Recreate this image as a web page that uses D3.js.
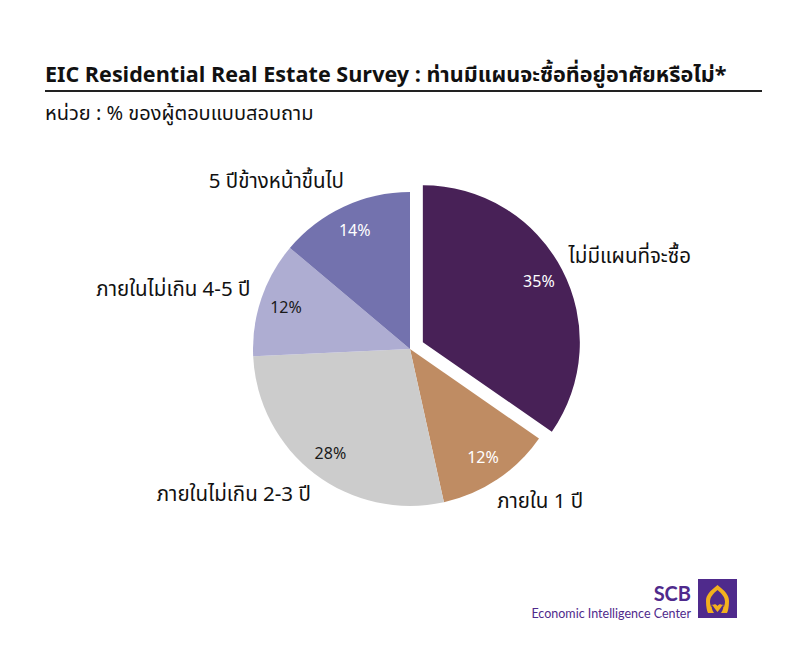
<!DOCTYPE html>
<html>
<head>
<meta charset="utf-8">
<script src="https://cdn.jsdelivr.net/npm/d3@7"></script>
<style>
    body { margin: 0; background: #fff; }
    svg text { font-family: "Noto Sans Thai", "Noto Sans", "Open Sans", sans-serif; }
    svg text.brand { font-family: Lato, "Noto Sans", sans-serif; }
</style>
</head>
<body>
<svg id="pieChart"></svg>
<script>
(function () {
    'use strict';

    const categories = ['ไม่มีแผนที่จะซื้อ', 'ภายใน 1 ปี', 'ภายในไม่เกิน 2-3 ปี', 'ภายในไม่เกิน 4-5 ปี', '5 ปีข้างหน้าขึ้นไป'];
    const shares = [35, 12, 28, 12, 14];
    const colors = ['#482157', '#bf8c63', '#cccccc', '#aeadd2', '#7372ae'];
    const valueColors = ['#ffffff', '#ffffff', '#1a1a1a', '#1a1a1a', '#ffffff'];

    const width = 800;
    const height = 650;
    const radius = 157;
    const center = { 'x': 410, 'y': 349 };
    const explode = 14.5;

    let svg = d3.select('#pieChart')
        .attr('width', width)
        .attr('height', height);

    // title + rule
    svg.append('text')
        .attr('x', 45)
        .attr('y', 82)
        .attr('font-size', 21.6)
        .attr('font-weight', 'bold')
        .attr('fill', '#111')
        .text('EIC Residential Real Estate Survey : ท่านมีแผนจะซื้อที่อยู่อาศัยหรือไม่*');

    svg.append('line')
        .attr('x1', 45)
        .attr('x2', 762)
        .attr('y1', 91)
        .attr('y2', 91)
        .attr('stroke', '#222')
        .attr('stroke-width', 2);

    svg.append('text')
        .attr('x', 45)
        .attr('y', 120)
        .attr('font-size', 20)
        .attr('fill', '#111')
        .text('หน่วย : % ของผู้ตอบแบบสอบถาม');

    let pie = d3.pie()
        .sort(null)
        .value((d) => {
            return d;
        });

    let arcs = pie(shares);

    let arc = d3.arc()
        .innerRadius(0)
        .outerRadius(radius);

    let valueArc = d3.arc()
        .innerRadius(131)
        .outerRadius(131);

    let labelArc = d3.arc()
        .innerRadius(178)
        .outerRadius(178);

    const mid = (d) => {
        return (d.startAngle + d.endAngle) / 2;
    };

    const shift = (d, i) => {
        if (i !== 0) {
            return [0, 0];
        }
        return [Math.sin(mid(d)) * explode, -Math.cos(mid(d)) * explode];
    };

    let chart = svg.append('g')
        .attr('transform', `translate(${center.x}, ${center.y})`);

    let slice = chart.selectAll('.slice')
        .data(arcs)
        .enter().append('g')
            .attr('class', 'slice')
            .attr('transform', (d, i) => {
                let s = shift(d, i);
                return `translate(${s[0]}, ${s[1]})`;
            });

    slice.append('path')
        .attr('d', arc)
        .attr('fill', (d, i) => {
            return colors[i];
        });

    slice.append('text')
        .attr('transform', (d) => {
            return `translate(${valueArc.centroid(d)})`;
        })
        .attr('text-anchor', 'middle')
        .attr('dy', '.35em')
        .attr('font-size', 16)
        .attr('fill', (d, i) => {
            return valueColors[i];
        })
        .text((d) => {
            return d.data + '%';
        });

    slice.append('text')
        .attr('transform', (d) => {
            return `translate(${labelArc.centroid(d)})`;
        })
        .attr('text-anchor', (d) => {
            return Math.sin(mid(d)) > 0 ? 'start' : 'end';
        })
        .attr('dx', (d) => {
            return Math.sin(mid(d)) > 0 ? -12 : 9;
        })
        .attr('dy', (d) => {
            return 6 - 6 * Math.cos(mid(d));
        })
        .attr('font-size', 20.5)
        .attr('fill', '#111')
        .text((d, i) => {
            return categories[i];
        });

    // SCB EIC logo
    let logo = svg.append('g')
        .attr('transform', 'translate(698, 579)');

    logo.append('rect')
        .attr('width', 39)
        .attr('height', 39)
        .attr('fill', '#4f2a8c');

    logo.append('path')
        .attr('d', 'M19.5 6 C12 12 8 16 8 22 C8 28 9 32 10 34 L16 34 C14 31 13 28 14 25 C16 29 18 31 19.5 33 C21 31 23 29 25 25 C26 28 25 31 23 34 L29 34 C30 32 31 28 31 22 C31 16 27 12 19.5 6 Z M19.5 11 C24 15 27 18 27 23 C27 25 26 27 26 28 C24 25 21.5 24 19.5 27 C17.5 24 15 25 13 28 C13 27 12 25 12 23 C12 18 15 15 19.5 11 Z')
        .attr('fill', '#f2b01e');

    svg.append('text')
        .attr('class', 'brand')
        .attr('x', 691)
        .attr('y', 601)
        .attr('text-anchor', 'end')
        .attr('font-size', 20)
        .attr('font-weight', 'bold')
        .attr('fill', '#4f2a8c')
        .text('SCB');

    svg.append('text')
        .attr('class', 'brand')
        .attr('x', 691)
        .attr('y', 618)
        .attr('text-anchor', 'end')
        .attr('font-size', 12.5)
        .attr('fill', '#4f2a8c')
        .text('Economic Intelligence Center');
})();
</script>
</body>
</html>
